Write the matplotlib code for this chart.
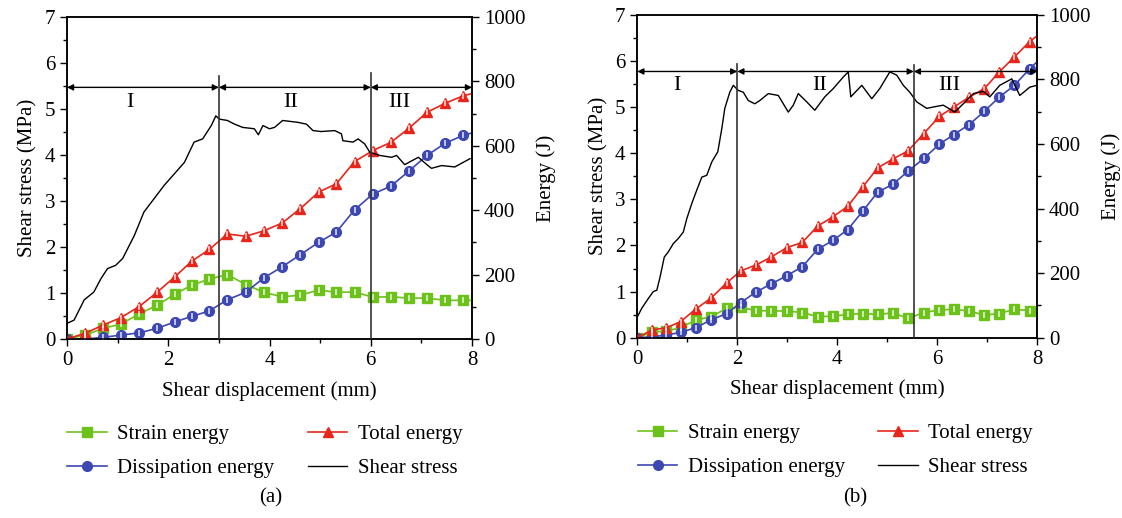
import numpy as np
import matplotlib
matplotlib.use('Agg')
from matplotlib import pyplot as plt

plt.rcParams['font.family'] = ['Liberation Serif', 'DejaVu Serif']

# ---- panel (a) data ----
disp_a = [0, 0.36, 0.71, 1.06, 1.42, 1.78, 2.13, 2.46, 2.81, 3.17, 3.53, 3.89,
          4.25, 4.61, 4.97, 5.32, 5.68, 6.04, 6.40, 6.75, 7.11, 7.47, 7.82, 8.0]
total_a = [0, 18, 43, 66, 100, 145, 193, 241, 278, 326, 319, 336,
           360, 405, 456, 482, 551, 585, 611, 654, 704, 732, 755, 762]
dissip_a = [0, 0, 5, 12, 19, 33, 53, 70, 87, 122, 145, 190,
            224, 262, 300, 332, 401, 450, 475, 521, 570, 608, 632, 640]
strain_a = [0, 12, 33, 46, 77, 105, 139, 167, 186, 200, 169, 145,
            131, 136, 152, 145, 146, 130, 131, 127, 127, 120, 120, 120]

sd_a = [0, 0.14, 0.34, 0.53, 0.67, 0.80, 0.96, 1.10, 1.33, 1.52, 1.72, 1.92,
        2.12, 2.32, 2.51, 2.68, 2.85, 2.94, 3.01, 3.17, 3.31, 3.47, 3.70, 3.78,
        3.87, 4.00, 4.10, 4.26, 4.56, 4.73, 4.86, 5.02, 5.29, 5.42, 5.45, 5.65,
        5.75, 5.88, 5.98, 6.18, 6.41, 6.51, 6.67, 6.94, 7.13, 7.20, 7.40, 7.66,
        7.86, 7.96]
stress_a = [0.34, 0.41, 0.85, 1.02, 1.31, 1.53, 1.60, 1.75, 2.25, 2.76, 3.05, 3.34,
            3.59, 3.84, 4.28, 4.35, 4.64, 4.85, 4.78, 4.75, 4.67, 4.60, 4.57, 4.44,
            4.64, 4.57, 4.60, 4.75, 4.71, 4.67, 4.53, 4.51, 4.53, 4.46, 4.31, 4.28,
            4.35, 4.24, 4.06, 3.99, 3.95, 3.99, 3.79, 3.95, 3.77, 3.71, 3.77, 3.74,
            3.86, 3.92]
stages_a = [0, 3, 6, 8]
stage_top_a = [5.72, 5.79]
arrow_y_a = 5.47
label_pos_a = [(1.25, 5.14), (4.42, 5.14), (6.57, 5.14)]

# ---- panel (b) data ----
disp_b = [0, 0.29, 0.58, 0.87, 1.17, 1.47, 1.79, 2.07, 2.37, 2.67, 2.99, 3.30,
          3.61, 3.92, 4.21, 4.51, 4.81, 5.11, 5.42, 5.73, 6.04, 6.33, 6.64, 6.94,
          7.24, 7.54, 7.85, 8.0]
total_b = [0, 24, 31, 50, 89, 122, 170, 207, 225, 249, 279, 295, 346, 375, 407,
           467, 526, 553, 579, 632, 685, 714, 745, 771, 823, 869, 917, 935]
dissip_b = [0, 3, 8, 17, 31, 55, 75, 109, 141, 166, 192, 220, 274, 302, 335,
            392, 451, 475, 516, 555, 599, 629, 660, 701, 745, 781, 833, 855]
strain_b = [0, 17, 21, 31, 55, 65, 91, 94, 84, 83, 83, 78, 65, 67, 72, 75, 72,
            77, 60, 78, 86, 88, 83, 70, 75, 88, 84, 84]

sd_b = [0, 0.09, 0.22, 0.32, 0.39, 0.45, 0.54, 0.62, 0.72, 0.82, 0.92, 0.99,
        1.09, 1.19, 1.29, 1.39, 1.49, 1.61, 1.69, 1.75, 1.85, 1.92, 2.02, 2.12,
        2.22, 2.35, 2.45, 2.62, 2.82, 3.02, 3.12, 3.22, 3.39, 3.55, 3.75, 3.92,
        4.12, 4.22, 4.27, 4.49, 4.69, 4.85, 5.05, 5.19, 5.32, 5.45, 5.59, 5.79,
        5.92, 6.12, 6.35, 6.52, 6.72, 6.92, 7.05, 7.25, 7.49, 7.65, 7.85, 7.99]
stress_b = [0.45, 0.64, 0.85, 1.00, 1.03, 1.29, 1.75, 1.86, 2.04, 2.15, 2.29, 2.58,
            2.91, 3.20, 3.48, 3.52, 3.81, 4.03, 4.53, 4.97, 5.32, 5.47, 5.36, 5.32,
            5.14, 5.07, 5.14, 5.29, 5.25, 4.89, 5.04, 5.29, 5.11, 4.93, 5.22, 5.40,
            5.65, 5.76, 5.22, 5.47, 5.18, 5.40, 5.76, 5.69, 5.47, 5.32, 5.11, 4.97,
            5.00, 5.04, 4.89, 5.07, 5.29, 5.34, 5.22, 5.47, 5.61, 5.25, 5.43, 5.47]
stages_b = [0, 2, 5.53, 8]
stage_top_b = [5.93, 5.92]
arrow_y_b = 5.77
label_pos_b = [(0.79, 5.46), (3.65, 5.46), (6.25, 5.46)]

stage_names = ['I', 'II', 'III']
legend_names = ['Strain energy', 'Dissipation energy', 'Total energy', 'Shear stress']

GREEN = '#6cc21a'
RED = '#e8251b'
BLUE = '#3d47b2'
FS = 15


def style_ticks(ax):
    ax.tick_params(axis='both', which='major', direction='out', length=5, width=1,
                   labelsize=FS)
    ax.tick_params(axis='both', which='minor', direction='out', length=3, width=1)
    ax.tick_params(axis='x', top=False, which='both')


def panel(fig, rect, disp, strain, dissip, total, sd, stress, stages, stage_top,
          arrow_y, label_pos, caption, cap_x):
    ax = fig.add_axes(rect)
    ax2 = ax.twinx()
    n = len(disp) - 1
    series = [(strain, GREEN, 's'), (dissip, BLUE, 'o'), (total, RED, '^')]
    handles = []
    for vals, col, mk in series:
        h, = ax2.plot(disp, vals, color=col, lw=1.2, marker=mk, ms=7,
                      mfc=col, mec=col, markevery=list(range(n)), zorder=3)
        ax2.plot(disp[:n], vals[:n], ls='none', marker='|', ms=4, mew=1.2,
                 color='white', alpha=0.8, zorder=4)
        handles.append(h)
    hs, = ax.plot(sd, stress, color='black', lw=1.0, zorder=5)
    handles.append(hs)

    ax.set_xlim(0, 8)
    ax.set_ylim(0, 7)
    ax2.set_ylim(0, 1000)
    ax.set_xticks([0, 2, 4, 6, 8])
    ax.set_xticks([1, 3, 5, 7], minor=True)
    ax.set_yticks(range(8))
    ax.set_yticks(np.arange(0.5, 7, 1), minor=True)
    ax2.set_yticks(range(0, 1001, 200))
    ax2.set_yticks(range(100, 1000, 200), minor=True)
    style_ticks(ax)
    style_ticks(ax2)
    for a in (ax, ax2):
        for s in a.spines.values():
            s.set_linewidth(1.1)
    ax.set_xlabel('Shear displacement (mm)', fontsize=FS, labelpad=8)
    ax.set_ylabel('Shear stress (MPa)', fontsize=FS, labelpad=5)
    ax2.set_ylabel('Energy (J)', fontsize=FS, labelpad=8)

    # stage boundaries and arrows
    for xb, top in zip(stages[1:-1], stage_top):
        ax.plot([xb, xb], [0, top], color='#333333', lw=1.2, zorder=6)
    for x0, x1 in zip(stages[:-1], stages[1:]):
        ax.annotate('', xy=(x1, arrow_y), xytext=(x0, arrow_y),
                    arrowprops=dict(arrowstyle='<|-|>', color='black', lw=1,
                                    mutation_scale=9, shrinkA=0, shrinkB=0),
                    zorder=6)
    for name, (lx, ly) in zip(stage_names, label_pos):
        ax.text(lx, ly, name, fontsize=FS + 1, ha='center', va='center')

    ax.set_zorder(ax2.get_zorder() + 1)
    ax.patch.set_visible(False)

    ax.legend(handles, legend_names, ncol=2, frameon=False, fontsize=FS,
              loc='upper left', bbox_to_anchor=(-0.035, -0.22),
              handlelength=1.9, columnspacing=1.6, handletextpad=0.5,
              labelspacing=0.7, borderaxespad=0.3)
    fig.text(cap_x, 0.038, caption, fontsize=FS, ha='center', va='center')
    return ax


fig = plt.figure(figsize=(11.22, 5.18), dpi=100)
panel(fig, [0.0597, 0.3456, 0.361, 0.6216], disp_a, strain_a, dissip_a, total_a,
      sd_a, stress_a, stages_a, stage_top_a, arrow_y_a, label_pos_a, '(a)', 0.241)
panel(fig, [0.568, 0.348, 0.3565, 0.6236], disp_b, strain_b, dissip_b, total_b,
      sd_b, stress_b, stages_b, stage_top_b, arrow_y_b, label_pos_b, '(b)', 0.762)
fig.savefig('out.png', dpi=100)
